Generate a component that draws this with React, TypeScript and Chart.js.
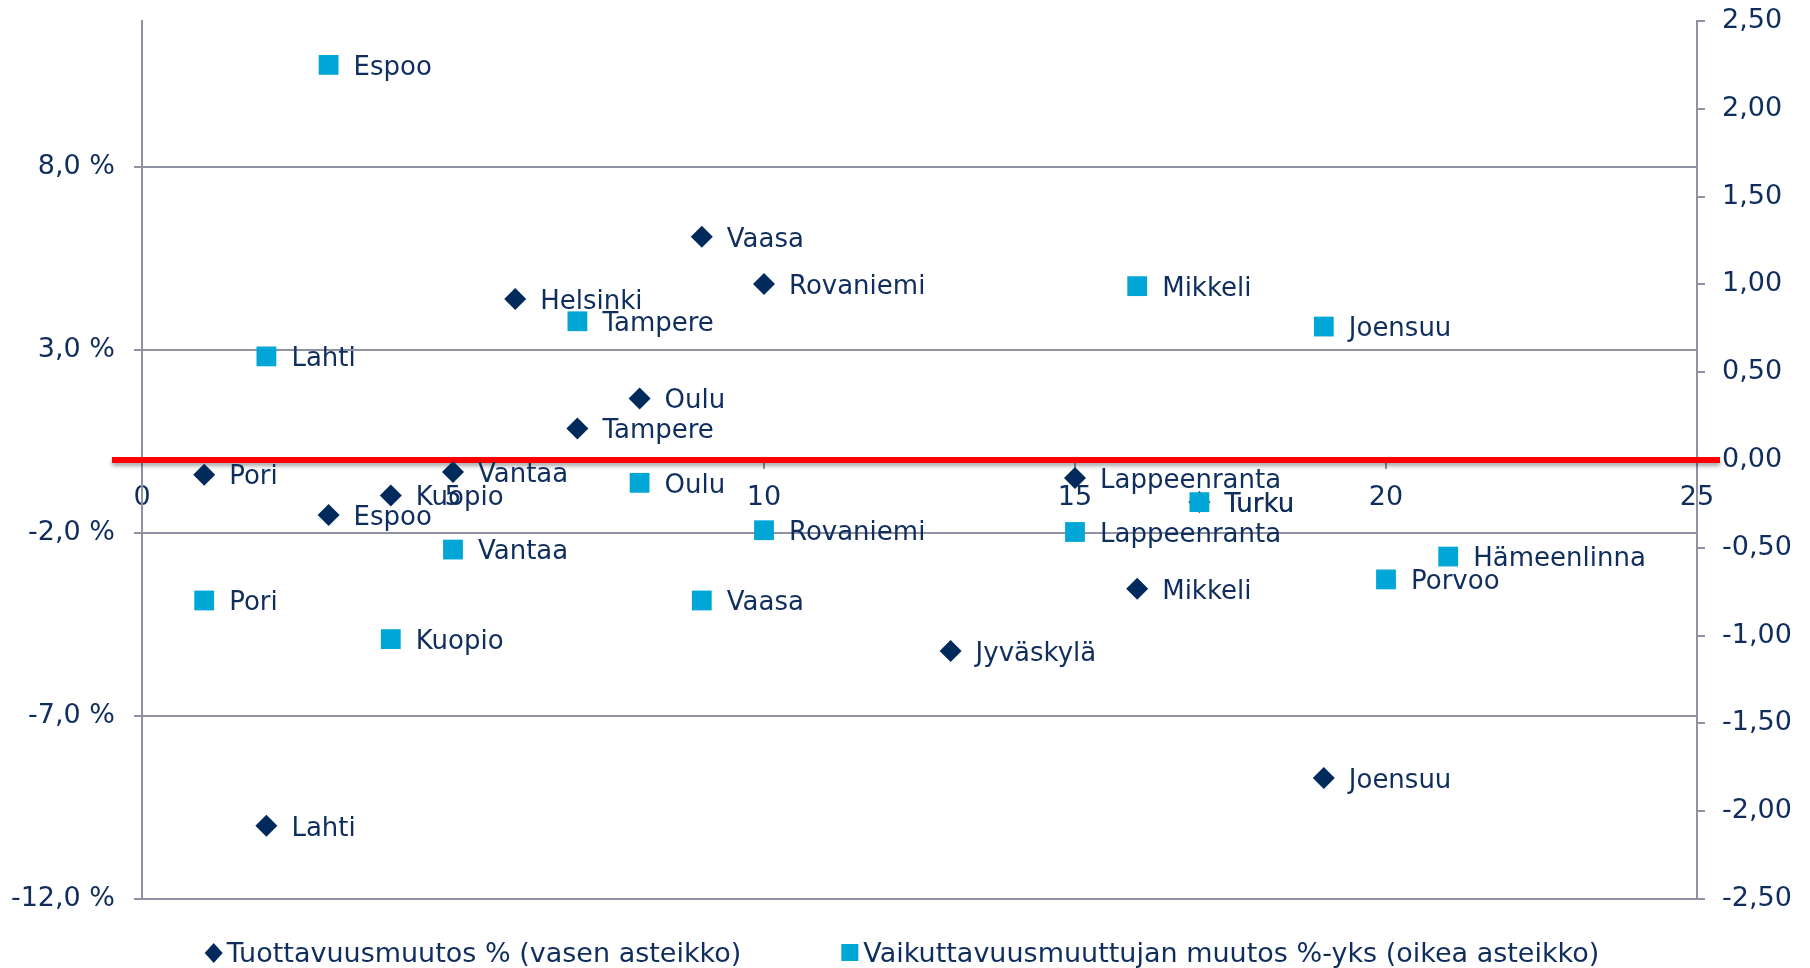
import React, { useEffect, useRef } from 'react';
import { Chart, registerables } from 'chart.js';

Chart.register(...registerables);

// Tuottavuusmuutos % (left axis) – diamonds
const productivityCities = ['Pori', 'Lahti', 'Espoo', 'Kuopio', 'Vantaa', 'Helsinki', 'Tampere', 'Oulu', 'Vaasa', 'Rovaniemi', 'Jyväskylä', 'Lappeenranta', 'Mikkeli', 'Turku', 'Joensuu'];
const productivityX = [1, 2, 3, 4, 5, 6, 7, 8, 9, 10, 13, 15, 16, 17, 19];
const productivityY = [-0.4, -10.0, -1.5, -0.97, -0.33, 4.4, 0.86, 1.68, 6.1, 4.81, -5.22, -0.49, -3.52, -1.15, -8.69];

// Vaikuttavuusmuuttujan muutos %-yks (right axis) – squares
const effectCities = ['Pori', 'Lahti', 'Espoo', 'Kuopio', 'Vantaa', 'Tampere', 'Oulu', 'Vaasa', 'Rovaniemi', 'Lappeenranta', 'Mikkeli', 'Turku', 'Joensuu', 'Porvoo', 'Hämeenlinna'];
const effectX = [1, 2, 3, 4, 5, 7, 8, 9, 10, 15, 16, 17, 19, 20, 21];
const effectY = [-0.8, 0.59, 2.25, -1.02, -0.51, 0.79, -0.13, -0.8, -0.4, -0.41, 0.99, -0.24, 0.76, -0.68, -0.55];

const leftTicks = [-12, -7, -2, 3, 8];
const legendLabels = ['Tuottavuusmuutos % (vasen asteikko)', 'Vaikuttavuusmuuttujan muutos %-yks (oikea asteikko)'];

const NAVY = '#002a5c';
const CYAN = '#00a6d6';
const TEXT = '#0f2e5d';
const GRID = '#8e92a3';
const FONT = "'DejaVu Sans', Verdana, sans-serif";
const FS = 26;
const AXIS_FS = 27;
const LEGEND_FS = 27;

const zeroLinePlugin = {
  id: 'zeroLine',
  beforeDatasetsDraw(chart: any) {
    const { ctx, chartArea, scales } = chart;
    const y = scales.y.getPixelForValue(0);
    ctx.save();
    ctx.strokeStyle = '#ff0000';
    ctx.lineWidth = 6;
    ctx.shadowColor = 'rgba(0,0,0,0.35)';
    ctx.shadowOffsetY = 3;
    ctx.shadowBlur = 4;
    ctx.beginPath();
    ctx.moveTo(chartArea.left - 30, y);
    ctx.lineTo(chartArea.right + 23, y);
    ctx.stroke();
    ctx.restore();
  },
};

const labelPlugin = {
  id: 'pointLabels',
  afterDatasetsDraw(chart: any) {
    const { ctx } = chart;
    ctx.save();
    ctx.fillStyle = TEXT;
    ctx.font = `${FS}px ${FONT}`;
    ctx.textAlign = 'left';
    ctx.textBaseline = 'middle';
    chart.data.datasets.forEach((ds: any, di: number) => {
      const meta = chart.getDatasetMeta(di);
      meta.data.forEach((pt: any, i: number) => {
        ctx.fillText(ds.cityLabels[i], pt.x + 25, pt.y + 3);
      });
    });
    ctx.restore();
  },
};

const legendPlugin = {
  id: 'customLegend',
  afterDraw(chart: any) {
    const { ctx, width, height } = chart;
    ctx.save();
    ctx.font = `${LEGEND_FS}px ${FONT}`;
    ctx.textBaseline = 'middle';
    ctx.textAlign = 'left';
    const markerW = 22;
    const gap = 100;
    const widths = legendLabels.map((t) => ctx.measureText(t).width);
    const total = widths[0] + widths[1] + markerW * 2 + gap;
    let x = (width - total) / 2 - 3;
    const y = height - 15;
    legendLabels.forEach((t, i) => {
      if (i === 0) {
        ctx.fillStyle = NAVY;
        ctx.beginPath();
        ctx.moveTo(x + 9, y - 10);
        ctx.lineTo(x + 18, y);
        ctx.lineTo(x + 9, y + 10);
        ctx.lineTo(x, y);
        ctx.closePath();
        ctx.fill();
      } else {
        ctx.fillStyle = CYAN;
        ctx.fillRect(x, y - 9, 17, 17);
      }
      ctx.fillStyle = TEXT;
      ctx.fillText(t, x + markerW, y + 2);
      x += markerW + widths[i] + gap;
    });
    ctx.restore();
  },
};

const fmtLeft = (v: number) => v.toFixed(1).replace('.', ',') + ' %';
const fmtRight = (v: number) => v.toFixed(2).replace('.', ',');

export default function App() {
  const ref = useRef<HTMLCanvasElement | null>(null);

  useEffect(() => {
    if (!ref.current) return;
    const chart = new Chart(ref.current, {
      type: 'scatter',
      data: {
        datasets: [
          {
            label: legendLabels[0],
            data: productivityX.map((x, i) => ({ x, y: productivityY[i] })),
            cityLabels: productivityCities,
            yAxisID: 'y',
            order: 2,
            pointStyle: 'rectRot',
            pointRadius: 11,
            pointBackgroundColor: NAVY,
            pointBorderColor: NAVY,
            pointBorderWidth: 0,
          } as any,
          {
            label: legendLabels[1],
            data: effectX.map((x, i) => ({ x, y: effectY[i] })),
            cityLabels: effectCities,
            yAxisID: 'y1',
            order: 1,
            pointStyle: 'rect',
            pointRadius: 14,
            pointBackgroundColor: CYAN,
            pointBorderColor: CYAN,
            pointBorderWidth: 0,
          } as any,
        ],
      },
      options: {
        animation: false,
        responsive: true,
        maintainAspectRatio: false,
        layout: { padding: { top: 21, bottom: 69, left: 0, right: 0 } },
        plugins: {
          legend: { display: false },
          tooltip: { enabled: false },
        },
        scales: {
          x: {
            type: 'linear',
            min: 0,
            max: 25,
            position: { y: 0 } as any,
            ticks: {
              stepSize: 5,
              color: TEXT,
              font: { family: FONT, size: AXIS_FS },
              padding: 14,
              maxRotation: 0,
            },
            grid: { drawOnChartArea: false, drawTicks: true, tickLength: 8, color: GRID, lineWidth: 2 },
            border: { display: true, color: GRID, width: 2 },
          },
          y: {
            type: 'linear',
            position: 'left',
            min: -12,
            max: 12,
            afterBuildTicks: (axis: any) => {
              axis.ticks = leftTicks.map((v) => ({ value: v }));
            },
            afterFit: (s: any) => {
              s.width = 142;
              s.paddingTop = 0;
              s.paddingBottom = 0;
            },
            ticks: {
              color: TEXT,
              font: { family: FONT, size: AXIS_FS },
              padding: 19,
              callback: (v: any) => fmtLeft(Number(v)),
            },
            grid: { drawOnChartArea: true, tickLength: 8, color: GRID, lineWidth: 2 },
            border: { display: true, color: GRID, width: 2 },
          },
          y1: {
            type: 'linear',
            position: 'right',
            min: -2.5,
            max: 2.5,
            afterFit: (s: any) => {
              s.width = 113;
              s.paddingTop = 0;
              s.paddingBottom = 0;
            },
            ticks: {
              stepSize: 0.5,
              color: TEXT,
              font: { family: FONT, size: AXIS_FS },
              padding: 17,
              callback: (v: any) => fmtRight(Number(v)),
            },
            grid: { drawOnChartArea: false, tickLength: 8, color: GRID, lineWidth: 2 },
            border: { display: true, color: GRID, width: 2 },
          },
        },
      } as any,
      plugins: [zeroLinePlugin, labelPlugin, legendPlugin],
    });
    return () => chart.destroy();
  }, []);

  return (
    <div style={{ position: 'fixed', left: 0, top: 0, width: 1810, height: 968, background: '#fff' }}>
      <canvas ref={ref} />
    </div>
  );
}
